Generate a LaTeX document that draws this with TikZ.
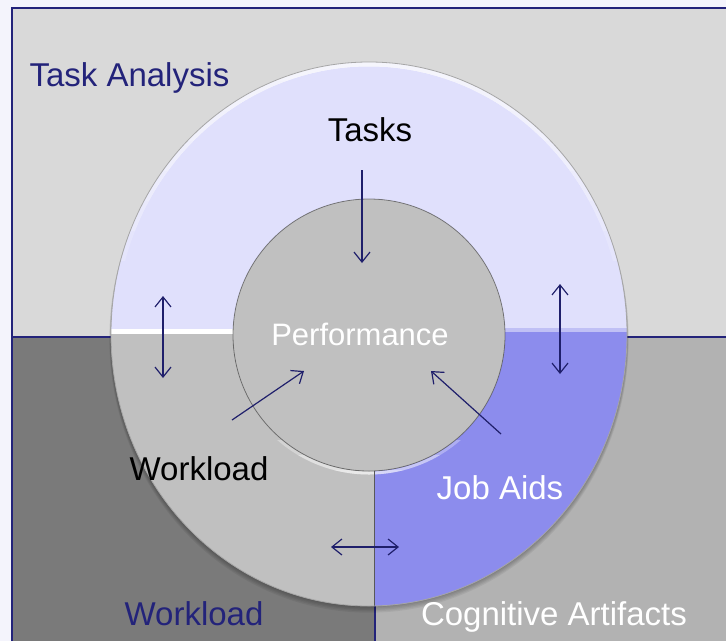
\documentclass[tikz,border=0pt]{standalone}
\usepackage{fontspec}
\setmainfont{Liberation Sans}
\usetikzlibrary{arrows.meta}

\definecolor{pagebg}{HTML}{F4F4FC}
\definecolor{navy}{HTML}{23237A}
\definecolor{areatop}{HTML}{D9D9D9}
\definecolor{arealeft}{HTML}{7A7A7A}
\definecolor{arearight}{HTML}{B2B2B2}
\definecolor{ringtop}{HTML}{E0E0FC}
\definecolor{ringleft}{HTML}{C0C0C0}
\definecolor{ringright}{HTML}{8C8CED}
\definecolor{arrowblue}{HTML}{1F1F6B}

\tikzset{
  barb/.tip={Straight Barb[length=10pt,width=16pt,line width=1.2pt]},
  link/.style={arrowblue, line width=1.2pt, -barb},
  twoway/.style={arrowblue, line width=1.2pt, barb-barb},
  areatext/.style={navy, font=\fontsize{33}{33}\selectfont},
  ringtext/.style={black, font=\fontsize{33}{33}\selectfont},
}

\begin{document}
\begin{tikzpicture}[x=1pt, y=-1pt]
\useasboundingbox (0,0) rectangle (726,641);
\fill[pagebg] (0,0) rectangle (726,641);

% Three areas behind the ring
\fill[areatop] (12,8) rectangle (726,337);
\fill[arealeft] (12,337) rectangle (375,641);
\fill[arearight] (375,337) rectangle (726,641);
\draw[navy, line width=1.5pt] (12,641) -- (12,8) -- (726,8);
\draw[navy, line width=1.2pt] (12,337) -- (726,337);
\draw[navy, line width=1.2pt] (375,337) -- (375,641);

% Soft shadow under the ring
\foreach \s in {1,...,5}
  \fill[black, opacity=0.06] (369,334+\s) ellipse [x radius=258+\s/3, y radius=272+\s/3];

% Ring segments
\begin{scope}
  \clip (90,40) rectangle (650,329);
  \fill[ringtop, even odd rule] (369,334) ellipse [x radius=258, y radius=272] (369,335) circle [radius=136];
\end{scope}
\begin{scope}
  \clip (90,329) rectangle (374,630);
  \fill[ringleft, even odd rule] (369,334) ellipse [x radius=258, y radius=272] (369,335) circle [radius=136];
\end{scope}
\begin{scope}
  \clip (374,329) rectangle (650,630);
  \fill[ringright, even odd rule] (369,334) ellipse [x radius=258, y radius=272] (369,335) circle [radius=136];
\end{scope}

% Bevel highlights
\begin{scope}[even odd rule]
  \clip (369,334) ellipse [x radius=258, y radius=272] (369,335) circle [radius=136];
  \fill[white] (100,329) rectangle (240,334);
  \fill[ringright!55!white] (495,328) rectangle (640,332);
  \foreach \h in {260,230,...,80}{
    \begin{scope}
      \clip (90,40) rectangle (650,\h);
      \draw[white, opacity=0.18, line width=5pt] (369,334) ellipse [x radius=256, y radius=270];
    \end{scope}
  }
  \foreach \h in {440,455,470}{
    \begin{scope}
      \clip (90,\h) rectangle (650,630);
      \draw[white, opacity=0.3, line width=3pt] (369,335) circle [radius=138];
    \end{scope}
  }
  \draw[gray!70!black, line width=0.8pt] (374,470) -- (374,610);
\end{scope}
\draw[gray!70, line width=0.8pt] (369,334) ellipse [x radius=258, y radius=272];

% Inner disc
\fill[ringleft] (369,335) circle [radius=136];
\draw[gray!50!black, opacity=0.6, line width=0.8pt] (369,335) circle [radius=136];

% Labels
\node[areatext, anchor=base west] (analysis) at (26,86) {Task Analysis};
\node[ringtext, anchor=base] (tasks) at (370,141) {Tasks};
\node[white, font=\fontsize{31}{31}\selectfont, anchor=base] (perf) at (360,345) {Performance};
\node[ringtext, anchor=base] (workload) at (199,480) {Workload};
\node[ringtext, white, anchor=base] (jobaids) at (500,499) {Job Aids};
\node[areatext, anchor=base] (wlarea) at (194,625) {Workload};
\node[areatext, white, anchor=base] (artifacts) at (554,625) {Cognitive Artifacts};

% Arrow ends
\coordinate (taskstail) at (362,170);
\coordinate (taskstip) at (362,263);
\coordinate (lefttop) at (163,296);
\coordinate (leftbot) at (163,378);
\coordinate (righttop) at (560,284);
\coordinate (rightbot) at (560,374);
\coordinate (botleft) at (331,547);
\coordinate (botright) at (399,547);
\coordinate (wltail) at (232,420);
\coordinate (wltip) at (304,371);
\coordinate (jatail) at (501,434);
\coordinate (jatip) at (431,371);

% Arrows
\draw[link] (taskstail) -- (taskstip);
\draw[twoway] (lefttop) -- (leftbot);
\draw[twoway] (righttop) -- (rightbot);
\draw[twoway] (botleft) -- (botright);
\draw[link] (wltail) -- (wltip);
\draw[link] (jatail) -- (jatip);
\end{tikzpicture}
\end{document}
